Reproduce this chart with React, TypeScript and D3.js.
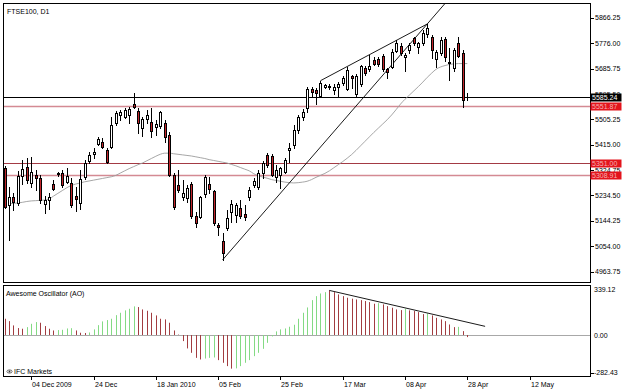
import * as React from 'react'
import * as d3 from 'd3'

// daily FTSE100 candles, one entry per bar (bar 0 = 26 Nov 2009 ... bar 104 = 28 Apr 2010)
const openP = [5331, 5200, 5230, 5209, 5304, 5337, 5280, 5307, 5295, 5203, 5218, 5275, 5315, 5315, 5283, 5278, 5231, 5206, 5299, 5358,
  5382, 5418, 5426, 5396, 5406, 5491, 5520, 5515, 5521, 5560, 5536, 5476, 5506, 5497, 5478, 5481, 5494, 5450, 5307, 5272,
  5230, 5224, 5275, 5161, 5156, 5240, 5274, 5251, 5129, 5073, 5118, 5177, 5166, 5189, 5168, 5230, 5272, 5266, 5313, 5378,
  5375, 5301, 5307, 5319, 5398, 5414, 5467, 5513, 5545, 5612, 5610, 5588, 5622, 5624, 5610, 5619, 5634, 5612, 5658, 5596,
  5631, 5687, 5684, 5717, 5722, 5731, 5684, 5692, 5750, 5766, 5728, 5752, 5794, 5764, 5776, 5810, 5800, 5722, 5742, 5790,
  5711, 5687, 5778, 5741, 5584]
const highP = [5340, 5266, 5242, 5322, 5361, 5367, 5373, 5325, 5307, 5233, 5242, 5289, 5318, 5325, 5331, 5295, 5266, 5325, 5361, 5390,
  5402, 5444, 5438, 5402, 5515, 5536, 5539, 5545, 5550, 5598, 5545, 5515, 5539, 5545, 5503, 5536, 5503, 5461, 5313, 5325,
  5289, 5272, 5283, 5177, 5233, 5307, 5301, 5254, 5135, 5100, 5183, 5218, 5206, 5218, 5201, 5266, 5295, 5325, 5358, 5387,
  5382, 5343, 5337, 5367, 5422, 5485, 5521, 5541, 5622, 5622, 5616, 5643, 5633, 5631, 5631, 5639, 5660, 5691, 5663, 5667,
  5699, 5695, 5735, 5728, 5728, 5738, 5690, 5755, 5788, 5776, 5743, 5776, 5800, 5782, 5824, 5845, 5806, 5752, 5798, 5798,
  5758, 5758, 5798, 5752, 5600]
const lowP = [5190, 5076, 5182, 5200, 5275, 5278, 5266, 5254, 5209, 5171, 5185, 5254, 5304, 5266, 5278, 5192, 5180, 5188, 5292, 5351,
  5367, 5414, 5402, 5349, 5402, 5485, 5503, 5512, 5491, 5545, 5458, 5446, 5491, 5444, 5450, 5474, 5426, 5304, 5188, 5248,
  5218, 5212, 5153, 5123, 5153, 5230, 5242, 5129, 5093, 5005, 5111, 5141, 5141, 5153, 5147, 5218, 5266, 5256, 5295, 5337,
  5304, 5283, 5260, 5313, 5355, 5402, 5456, 5503, 5533, 5586, 5560, 5584, 5616, 5615, 5594, 5588, 5628, 5610, 5616, 5588,
  5624, 5663, 5679, 5699, 5694, 5679, 5652, 5690, 5746, 5734, 5679, 5743, 5770, 5740, 5770, 5800, 5724, 5693, 5734, 5714,
  5646, 5679, 5726, 5550, 5574]
const closeP = [5194, 5228, 5210, 5304, 5328, 5289, 5319, 5295, 5218, 5218, 5230, 5257, 5310, 5272, 5305, 5200, 5221, 5292, 5351, 5378,
  5390, 5434, 5406, 5355, 5485, 5527, 5530, 5539, 5541, 5550, 5491, 5506, 5521, 5465, 5488, 5533, 5444, 5307, 5194, 5254,
  5242, 5260, 5161, 5137, 5228, 5299, 5258, 5135, 5123, 5031, 5153, 5204, 5201, 5161, 5159, 5254, 5287, 5315, 5349, 5343,
  5307, 5325, 5331, 5361, 5405, 5467, 5513, 5533, 5612, 5604, 5600, 5636, 5626, 5619, 5622, 5631, 5652, 5681, 5652, 5660,
  5695, 5671, 5695, 5702, 5702, 5684, 5674, 5746, 5778, 5743, 5734, 5770, 5776, 5776, 5812, 5832, 5754, 5744, 5788, 5728,
  5707, 5752, 5731, 5574, 5585.24]

// moving average, starts at bar 1
const maValues = [5205, 5206, 5208, 5210, 5213, 5215, 5216, 5217, 5218, 5222, 5232, 5242, 5252, 5262, 5270, 5275, 5279, 5283, 5286,
  5289, 5292, 5295, 5298, 5301, 5306, 5314, 5322, 5330, 5337, 5344, 5350, 5358, 5366, 5374, 5381, 5385, 5385, 5383, 5381,
  5379, 5377, 5375, 5372, 5369, 5366, 5362, 5359, 5356, 5353, 5350, 5345, 5340, 5334, 5328, 5322, 5312, 5305, 5300, 5296,
  5291, 5288, 5285, 5282, 5280, 5279, 5280, 5282, 5285, 5291, 5299, 5306, 5313, 5322, 5333, 5344, 5355, 5367, 5380, 5395,
  5411, 5427, 5443, 5459, 5474, 5489, 5504, 5521, 5540, 5560, 5577, 5592, 5607, 5622, 5638, 5655, 5670, 5684, 5692, 5697,
  5701, 5703, 5704, 5704, 5704]
const maStart = 1

// Awesome Oscillator
const aoValues = [123, 105, 73, 53, 48, 60, 85, 98, 93, 68, 48, 35, 38, 40, 50, 52, 35, 18, 16, 20,
  43, 75, 103, 113, 123, 150, 168, 186, 198, 216, 211, 193, 183, 168, 148, 123, 118, 93, 35, 4,
  -45, -100, -133, -171, -183, -176, -171, -168, -188, -208, -233, -252, -250, -233, -208, -188, -158, -133, -103, -58,
  -10, 28, 43, 50, 63, 78, 123, 168, 208, 263, 293, 313, 323, 336, 323, 306, 293, 281, 274, 268,
  263, 256, 248, 236, 240, 231, 218, 206, 193, 188, 198, 186, 181, 173, 158, 162, 148, 130, 118, 105,
  80, 60, 62, 30, -15]
// g = rising bar, r = falling bar
const aoDir = 'rrrrr' + 'ggg' + 'rrrr' + 'gggg' + 'rrr' + 'ggggggggggg' + 'rrrrrrrrrrrrrrr' + 'ggg' + 'rrrr' +
  'ggggggggggggggggggggg' + 'rrrrrrrrrrr' + 'g' + 'rrrrr' + 'g' + 'rrrr' + 'g' + 'rrrrrr' + 'g' + 'rr'

const priceTicks = [4963.75, 5054.0, 5144.25, 5234.5, 5324.75, 5415.0, 5505.25, 5595.5, 5685.75, 5776.0, 5866.25]
const aoTicks = [-282.43, 0, 339.12]
const dateLabels = ['04 Dec 2009', '24 Dec', '18 Jan 2010', '05 Feb', '25 Feb', '17 Mar', '08 Apr', '28 Apr', '12 May']
const dateBars = [6, 20, 34, 48, 62, 76, 90, 104, 118]

// horizontal levels: last price, then drawn lines
const levelValues = [5585.24, 5551.87, 5351.0, 5308.91]
// trend lines: [bar1, price1, bar2, price2, extendToBar]
const trendLines = [
  [49, 5005, 95, 5845, 112],
  [71, 5643, 95, 5845, 95],
]
const aoTrend = [73, 336, 108, 66]

const FONT = 'Liberation Sans, Arial, sans-serif'

export default function App() {
  const width = 625
  const height = 390
  const left = 3.5
  const right = 590.5
  const mainTop = 3.5
  const mainBottom = 282.5
  const aoTop = 285.5
  const aoBottom = 376.5

  const x = d3.scaleLinear().domain([0, 1]).range([4.5, 8.95])
  const y = d3.scaleLinear().domain([4963.75, 5866.25]).range([271.5, 18])
  const ya = d3.scaleLinear().domain([-282.43, 339.12]).range([372.7, 290])
  const px = (i: number) => Math.round(x(i)) + 0.5

  const maLine = d3
    .line<number>()
    .x((d, i) => x(i + maStart))
    .y((d) => y(d))
    .curve(d3.curveMonotoneX)(maValues)

  const levelStroke = ['#000000', '#d48a93', '#a33a44', '#d48a93']
  const levelWidth = [1, 1.5, 1, 1.5]
  const levelBox = ['#000000', '#e3141c', '#e3141c', '#e3141c']
  const levelText = ['#ffffff', '#f5b0b0', '#f5b0b0', '#f5b0b0']

  return (
    <svg width={width} height={height} style={{ position: 'absolute', left: 0, top: 0, background: '#fff' }}
      fontFamily={FONT} fontSize={7}>
      <defs>
        <clipPath id="mainClip">
          <rect x={left} y={mainTop} width={right - left} height={mainBottom - mainTop} />
        </clipPath>
      </defs>
      <rect width={width} height={height} fill="#fff" />

      {/* main panel */}
      <g clipPath="url(#mainClip)">
        {levelValues.map((v, k) => (
          <line key={'lv' + k} x1={left} x2={right} y1={Math.round(y(v)) + 0.5} y2={Math.round(y(v)) + 0.5}
            stroke={levelStroke[k]} strokeWidth={levelWidth[k]} />
        ))}
        <path d={maLine ?? ''} fill="none" stroke="#9c9c9c" strokeWidth={0.9} />
        {trendLines.map((t, k) => {
          const slope = (t[3] - t[1]) / (t[2] - t[0])
          return (
            <line key={'tl' + k} x1={x(t[0])} y1={y(t[1])} x2={x(t[4])} y2={y(t[1] + slope * (t[4] - t[0]))}
              stroke="#000" strokeWidth={0.9} />
          )
        })}
        {openP.map((o, i) => {
          const c = closeP[i]
          const cx = px(i)
          const top = Math.round(y(Math.max(o, c)))
          const bot = Math.round(y(Math.min(o, c)))
          const bull = c >= o
          return (
            <g key={'c' + i}>
              <line x1={cx} x2={cx} y1={Math.round(y(highP[i]))} y2={Math.round(y(lowP[i])) + 1} stroke="#000" strokeWidth={1} />
              <rect x={cx - 1} y={top + 0.5} width={2} height={Math.max(bot - top, 0)}
                fill={bull ? '#ffffff' : '#c1252b'} stroke="#000" strokeWidth={1} />
            </g>
          )
        })}
      </g>
      <rect x={left} y={mainTop} width={right - left} height={mainBottom - mainTop} fill="none" stroke="#000" />
      <text x={7} y={13.5} fill="#000">FTSE100, D1</text>

      {/* price axis */}
      {priceTicks.map((p) => (
        <g key={'pt' + p}>
          <line x1={right} x2={594} y1={Math.round(y(p)) + 0.5} y2={Math.round(y(p)) + 0.5} stroke="#000" />
          <text x={595} y={y(p)} dy="0.35em" fill="#000">{p.toFixed(2)}</text>
        </g>
      ))}
      {levelValues.map((v, k) => (
        <g key={'lb' + k}>
          <rect x={right} y={Math.round(y(v)) - 3.5} width={31} height={8} fill={levelBox[k]} />
          <text x={592} y={Math.round(y(v)) + 0.5} dy="0.35em" fill={levelText[k]}>{v.toFixed(2)}</text>
        </g>
      ))}

      {/* awesome oscillator panel */}
      <line x1={left} x2={right} y1={Math.round(ya(0)) + 0.5} y2={Math.round(ya(0)) + 0.5} stroke="#a8a8a8" />
      {aoValues.map((v, i) => (
        <line key={'ao' + i} x1={px(i)} x2={px(i)} y1={Math.round(ya(0))} y2={ya(v)}
          stroke={aoDir[i] === 'g' ? '#84da84' : '#a23c40'} strokeWidth={1} />
      ))}
      <line x1={x(aoTrend[0])} y1={ya(aoTrend[1])} x2={x(aoTrend[2])} y2={ya(aoTrend[3])} stroke="#000" strokeWidth={0.9} />
      <rect x={left} y={aoTop} width={right - left} height={aoBottom - aoTop} fill="none" stroke="#000" />
      <text x={6} y={296} fill="#000">Awesome Oscillator (AO)</text>
      <g transform="translate(9.5,371.5)">
        <ellipse rx={2.6} ry={1.6} fill="none" stroke="#333" strokeWidth={0.7} />
        <circle r={0.9} fill="#333" />
      </g>
      <text x={14} y={374} fill="#000">IFC Markets</text>
      {aoTicks.map((v, k) => (
        <g key={'at' + k}>
          {k === 0 && <line x1={right} x2={594} y1={Math.round(ya(v)) + 0.5} y2={Math.round(ya(v)) + 0.5} stroke="#000" />}
          <text x={594} y={k === 2 ? 289.5 : ya(v)} dy="0.35em" fill="#000">{v.toFixed(2)}</text>
        </g>
      ))}

      {/* time axis */}
      {dateLabels.map((d, k) => (
        <g key={'d' + k}>
          <line x1={px(dateBars[k])} x2={px(dateBars[k])} y1={aoBottom} y2={380} stroke="#000" />
          <text x={px(dateBars[k]) + 0.5} y={387} fill="#000">{d}</text>
        </g>
      ))}
    </svg>
  )
}
